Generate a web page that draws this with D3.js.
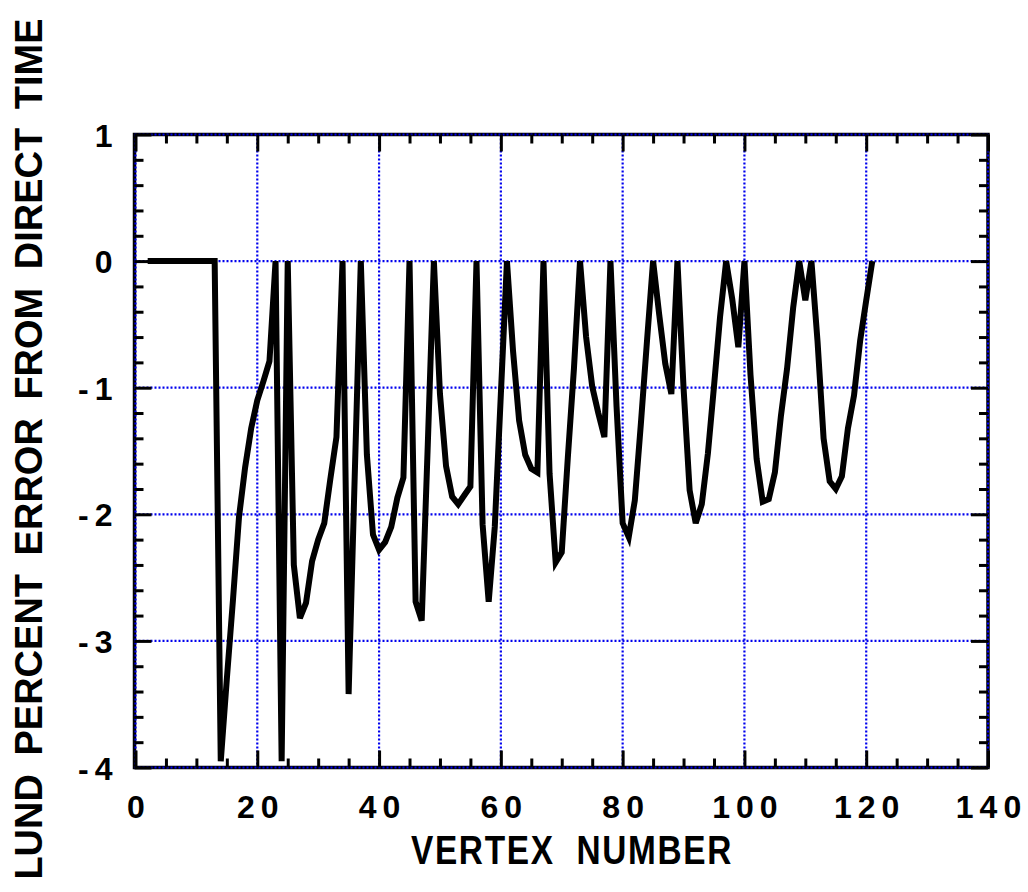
<!DOCTYPE html>
<html>
<head>
<meta charset="utf-8">
<script src="https://cdn.jsdelivr.net/npm/d3@7"></script>
<style>
  body { margin: 0; background: #fff; }
  text { font-family: "Liberation Sans", Arial, sans-serif; font-weight: bold; fill: #000; }
  .title { white-space: pre; }
</style>
</head>
<body>
<script>
// vertex number vs percent error
const vertex = [2, 13, 14, 15, 16, 17, 18, 19, 20, 21, 22, 23, 24, 25, 26, 27, 28, 29, 30,
  31, 32, 33, 34, 35, 36, 37, 38, 39, 40, 41, 42, 43, 44, 45, 46, 47, 48, 49, 50,
  51, 52, 53, 54, 55, 56, 57, 58, 59, 60, 61, 62, 63, 64, 65, 66, 67, 68, 69, 70,
  71, 72, 73, 74, 75, 76, 77, 78, 79, 80, 81, 82, 83, 84, 85, 86, 87, 88, 89, 90,
  91, 92, 93, 94, 95, 96, 97, 98, 99, 100, 101, 102, 103, 104, 105, 106, 107, 108, 109, 110,
  111, 112, 113, 114, 115, 116, 117, 118, 119, 120, 121]
const pctError = [0, 0, -3.95, -3.3, -2.68, -2.02, -1.63, -1.32, -1.1, -0.95, -0.79, 0, -3.95, 0, -2.4, -2.82, -2.7, -2.37, -2.2,
  -2.07, -1.72, -1.39, 0, -3.42, -1.7, 0, -1.53, -2.16, -2.28, -2.22, -2.1, -1.87, -1.71, 0, -2.69, -2.84, -1.45, 0, -1.05,
  -1.62, -1.86, -1.92, -1.85, -1.78, 0, -2.08, -2.69, -2.1, -1.05, 0, -0.71, -1.26, -1.53, -1.64, -1.67, 0, -1.68, -2.38, -2.3,
  -1.55, -0.85, 0, -0.6, -0.99, -1.2, -1.39, 0, -1.15, -2.07, -2.18, -1.89, -1.28, -0.63, 0, -0.42, -0.81, -1.05, 0, -1.0,
  -1.81, -2.07, -1.92, -1.52, -0.99, -0.44, 0, -0.3, -0.68, 0, -0.9, -1.56, -1.9, -1.88, -1.67, -1.22, -0.85, -0.37, 0, -0.31,
  0, -0.63, -1.4, -1.74, -1.8, -1.7, -1.32, -1.06, -0.63, -0.31, 0]

const xTicks = [0, 20, 40, 60, 80, 100, 120, 140]
const yTicks = [1, 0, -1, -2, -3, -4]
const xMinor = d3.range(0, 141, 5).filter(v => v % 20 !== 0)
const yMinor = d3.range(-4, 1.01, 0.2).map(v => +v.toFixed(1)).filter(v => !Number.isInteger(v))

const m = { width: 1028, height: 892 }
const plot = { left: 134.5, right: 988, top: 134.5, bottom: 767.5 }

const svg = d3.select("body").append("svg")
  .attr("width", m.width)
  .attr("height", m.height)

const x = d3.scaleLinear().domain([0, 140]).range([135.5, 988])
const y = d3.scaleLinear().domain([-4, 1]).range([767.5, 134.5])

// frame
svg.append("rect")
  .attr("x", plot.left).attr("y", plot.top)
  .attr("width", plot.right - plot.left).attr("height", plot.bottom - plot.top)
  .attr("fill", "none").attr("stroke", "#000").attr("stroke-width", 3.5)

// dotted blue grid
const grid = svg.append("g")
  .attr("stroke", "#0000ee").attr("stroke-width", 2.2).attr("stroke-dasharray", "2,2")
grid.selectAll(".gx").data(xTicks).enter().append("line")
  .attr("x1", d => x(d)).attr("x2", d => x(d))
  .attr("y1", plot.top).attr("y2", plot.bottom)
grid.selectAll(".gy").data(yTicks).enter().append("line")
  .attr("x1", plot.left).attr("x2", plot.right)
  .attr("y1", d => y(d)).attr("y2", d => y(d))

// ticks, all pointing inward
function styleAxis(g) {
  g.select(".domain").remove()
  g.selectAll(".tick line").attr("stroke", "#000").attr("stroke-width", 3)
}
const major = 17, minor = 9

svg.append("g").attr("transform", `translate(0,${plot.bottom})`)
  .call(d3.axisBottom(x).tickValues(xMinor).tickSize(-minor).tickFormat(""))
  .call(styleAxis)
svg.append("g").attr("transform", `translate(0,${plot.top})`)
  .call(d3.axisTop(x).tickValues(xMinor).tickSize(-minor).tickFormat(""))
  .call(styleAxis)
svg.append("g").attr("transform", `translate(0,${plot.top})`)
  .call(d3.axisTop(x).tickValues(xTicks).tickSize(-major).tickFormat(""))
  .call(styleAxis)
svg.append("g").attr("transform", `translate(${plot.left},0)`)
  .call(d3.axisLeft(y).tickValues(yMinor).tickSize(-minor).tickFormat(""))
  .call(styleAxis)
svg.append("g").attr("transform", `translate(${plot.right},0)`)
  .call(d3.axisRight(y).tickValues(yMinor).tickSize(-minor).tickFormat(""))
  .call(styleAxis)
svg.append("g").attr("transform", `translate(${plot.right},0)`)
  .call(d3.axisRight(y).tickValues(yTicks).tickSize(-major).tickFormat(""))
  .call(styleAxis)

const xAxis = svg.append("g").attr("transform", `translate(0,${plot.bottom})`)
  .call(d3.axisBottom(x).tickValues(xTicks).tickSize(-major).tickFormat(d3.format("d")))
  .call(styleAxis)
xAxis.selectAll(".tick text")
  .attr("y", 50).attr("dy", 0).attr("dx", 3)
  .attr("font-size", 32).attr("letter-spacing", 6)
  .attr("font-family", null).attr("fill", "#000")

const yAxis = svg.append("g").attr("transform", `translate(${plot.left},0)`)
  .call(d3.axisLeft(y).tickValues(yTicks).tickSize(-major).tickFormat(d => d < 0 ? "-" + Math.abs(d) : d))
  .call(styleAxis)
yAxis.selectAll(".tick text")
  .attr("x", -16).attr("dy", "0.36em")
  .attr("font-size", 32).attr("letter-spacing", 6)
  .attr("font-family", null).attr("fill", "#000")

// data line
const line = d3.line()
  .x((d, i) => x(vertex[i]))
  .y(d => y(d))

svg.append("path")
  .datum(pctError)
  .attr("d", line)
  .attr("fill", "none")
  .attr("stroke", "#000")
  .attr("stroke-width", 6)

// axis titles
svg.append("text")
  .attr("class", "title")
  .attr("x", 572).attr("y", 864)
  .attr("text-anchor", "middle")
  .attr("font-size", 40)
  .attr("letter-spacing", 2)
  .attr("textLength", 322).attr("lengthAdjust", "spacingAndGlyphs")
  .text("VERTEX  NUMBER")

svg.append("text")
  .attr("transform", "translate(42,449) rotate(-90)")
  .attr("text-anchor", "middle")
  .attr("font-size", 38)
  .attr("word-spacing", 8)
  .text("LUND PERCENT ERROR FROM DIRECT TIME")
</script>
</body>
</html>
